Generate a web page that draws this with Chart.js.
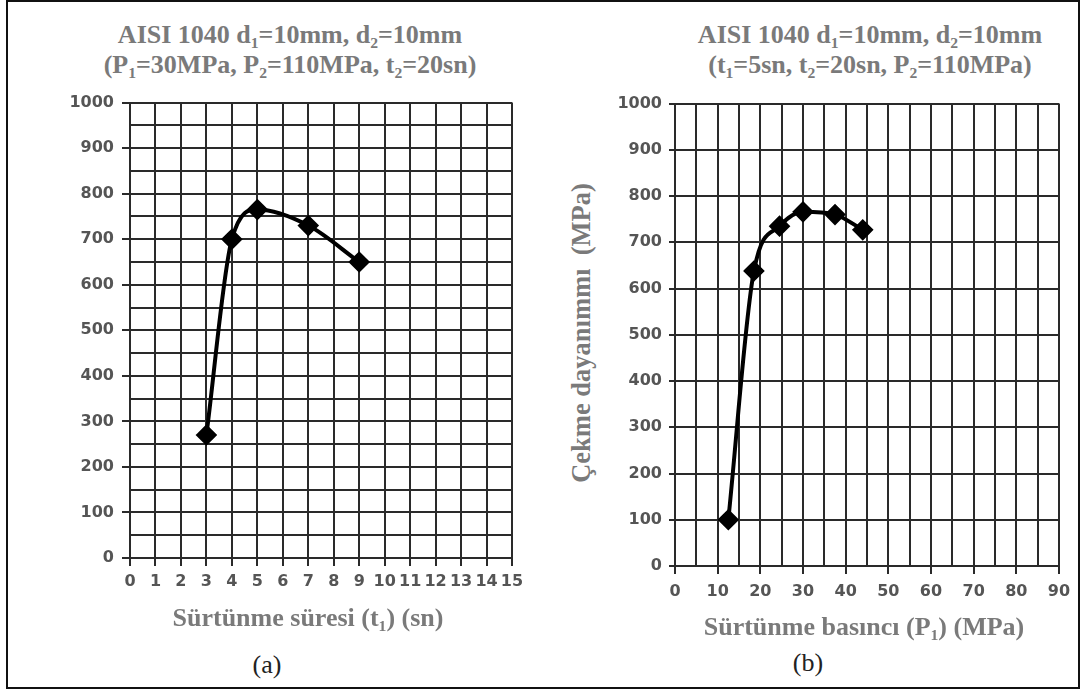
<!DOCTYPE html>
<html>
<head>
<meta charset="utf-8">
<script src="https://cdn.jsdelivr.net/npm/chart.js@4.4.1/dist/chart.umd.min.js"></script>
<style>
  html, body { margin:0; padding:0; background:#fff; }
  body { width:1086px; height:693px; position:relative; overflow:hidden; }
  #frame { position:absolute; left:6px; top:0px; width:1074px; height:689px; border:2px solid #111; box-sizing:border-box; }
  .cv { position:absolute; }
  .title { position:absolute; font-family:"Liberation Serif","Times New Roman",serif; font-weight:bold; font-size:26px; color:#7a7a7a; text-align:center; white-space:nowrap; line-height:30px; transform:translateX(-50%); }
  .title sub, .xt sub { font-size:0.6em; vertical-align:-0.3em; line-height:0; }
  .xt { position:absolute; font-family:"Liberation Serif","Times New Roman",serif; font-weight:bold; font-size:26px; color:#7a7a7a; white-space:nowrap; transform:translate(-50%,-50%); }
  .yt { position:absolute; font-family:"Liberation Serif","Times New Roman",serif; font-weight:bold; font-size:26.5px; color:#7a7a7a; white-space:nowrap; transform:translate(-50%,-50%) rotate(-90deg); }
  .lab { position:absolute; font-family:"Liberation Serif","Times New Roman",serif; font-size:26px; color:#222; transform:translate(-50%,-50%); }
</style>
</head>
<body>
<div id="frame"></div>
<canvas id="c1" class="cv" style="left:40px;top:85px;" width="492" height="520"></canvas>
<canvas id="c2" class="cv" style="left:605px;top:87px;" width="474" height="526"></canvas>

<div class="title" style="left:290px;top:20px;">AISI 1040 d<sub>1</sub>=10mm, d<sub>2</sub>=10mm<br>(P<sub>1</sub>=30MPa, P<sub>2</sub>=110MPa, t<sub>2</sub>=20sn)</div>
<div class="title" style="left:870px;top:20px;">AISI 1040 d<sub>1</sub>=10mm, d<sub>2</sub>=10mm<br>(t<sub>1</sub>=5sn, t<sub>2</sub>=20sn, P<sub>2</sub>=110MPa)</div>

<div class="yt" style="left:581px;top:333px;">Çekme dayanımmı&nbsp; (MPa)</div>

<div class="xt" style="left:308px;top:618px;">Sürtünme süresi (t<sub>1</sub>) (sn)</div>
<div class="xt" style="left:864px;top:627px;">Sürtünme basıncı (P<sub>1</sub>) (MPa)</div>

<div class="lab" style="left:267px;top:665px;">(a)</div>
<div class="lab" style="left:808px;top:663px;">(b)</div>

<script>
// ---- Data (a): tensile strength vs friction time t1 ----
const timeT1 = [3, 4, 5, 7, 9];
const strengthA = [270, 700, 765, 730, 650];
const xTicksA = [0, 1, 2, 3, 4, 5, 6, 7, 8, 9, 10, 11, 12, 13, 14, 15];

// ---- Data (b): tensile strength vs friction pressure P1 ----
const pressureP1 = [12.5, 18.5, 24.5, 30, 37.5, 44];
const strengthB = [100, 638, 735, 766, 760, 727];
const xTicksB = [0, 10, 20, 30, 40, 50, 60, 70, 80, 90];

const yTickLabels = [0, 100, 200, 300, 400, 500, 600, 700, 800, 900, 1000];

const GRID = '#2a2a2a';
const TICKFONT = { family: 'DejaVu Sans', size: 16, weight: 'bold' };
const TICKCOLOR = '#555';

function makeChart(id, xs, ys, xOpts, yOpts) {
  const pts = xs.map((x, i) => ({ x: x, y: ys[i] }));
  return new Chart(document.getElementById(id), {
    type: 'scatter',
    data: { datasets: [{
      data: pts,
      showLine: true,
      borderColor: '#000',
      backgroundColor: '#000',
      borderWidth: 4,
      cubicInterpolationMode: 'monotone',
      pointStyle: 'rectRot',
      pointRadius: 8,
      pointHoverRadius: 8,
      pointBackgroundColor: '#000',
      pointBorderColor: '#000'
    }]},
    options: {
      responsive: false,
      animation: false,
      events: [],
      layout: { padding: { top: 10, right: 20, bottom: 0, left: 0 } },
      plugins: { legend: { display: false }, tooltip: { enabled: false }, title: { display: false } },
      scales: { x: xOpts, y: yOpts }
    }
  });
}

// Chart (a)
makeChart('c1', timeT1, strengthA,
  {
    type: 'linear', min: 0, max: 15,
    afterFit: s => { s.height = 47; },
    afterBuildTicks: s => { s.ticks = xTicksA.map(v => ({ value: v })); },
    border: { color: GRID, width: 2 },
    grid: { color: GRID, lineWidth: 2, tickLength: 8, tickColor: GRID, tickWidth: 2 },
    ticks: { autoSkip: false, maxRotation: 0, padding: 6, font: TICKFONT, color: TICKCOLOR,
      callback: v => String(v) }
  },
  {
    type: 'linear', min: 0, max: 1000,
    afterFit: s => { s.width = 90; },
    afterBuildTicks: s => {
      const t = [];
      for (let v = 0; v <= 1000; v += 50) t.push({ value: v });
      s.ticks = t;
    },
    border: { color: GRID, width: 2 },
    grid: { color: GRID, lineWidth: 2, tickLength: 8, tickWidth: 2,
      tickColor: c => (c.tick && yTickLabels.includes(c.tick.value)) ? GRID : 'rgba(0,0,0,0)' },
    ticks: { autoSkip: false, padding: 8, font: TICKFONT, color: TICKCOLOR,
      callback: v => yTickLabels.includes(v) ? String(v) : '' }
  }
);

// Chart (b)
makeChart('c2', pressureP1, strengthB,
  {
    type: 'linear', min: 0, max: 90,
    afterFit: s => { s.height = 47; },
    afterBuildTicks: s => {
      const t = [];
      for (let v = 0; v <= 90; v += 5) t.push({ value: v });
      s.ticks = t;
    },
    border: { color: GRID, width: 2 },
    grid: { color: GRID, lineWidth: 2, tickLength: 8, tickWidth: 2,
      tickColor: c => (c.tick && xTicksB.includes(c.tick.value)) ? GRID : 'rgba(0,0,0,0)' },
    ticks: { autoSkip: false, maxRotation: 0, padding: 8, font: TICKFONT, color: TICKCOLOR,
      callback: v => xTicksB.includes(v) ? String(v) : '' }
  },
  {
    type: 'linear', min: 0, max: 1000,
    afterFit: s => { s.width = 70; },
    afterBuildTicks: s => { s.ticks = yTickLabels.map(v => ({ value: v })); },
    border: { color: GRID, width: 2 },
    grid: { color: GRID, lineWidth: 2, tickLength: 6, tickColor: GRID, tickWidth: 2 },
    ticks: { autoSkip: false, padding: 7, font: TICKFONT, color: TICKCOLOR,
      callback: v => String(v) }
  }
);
</script>
</body>
</html>
